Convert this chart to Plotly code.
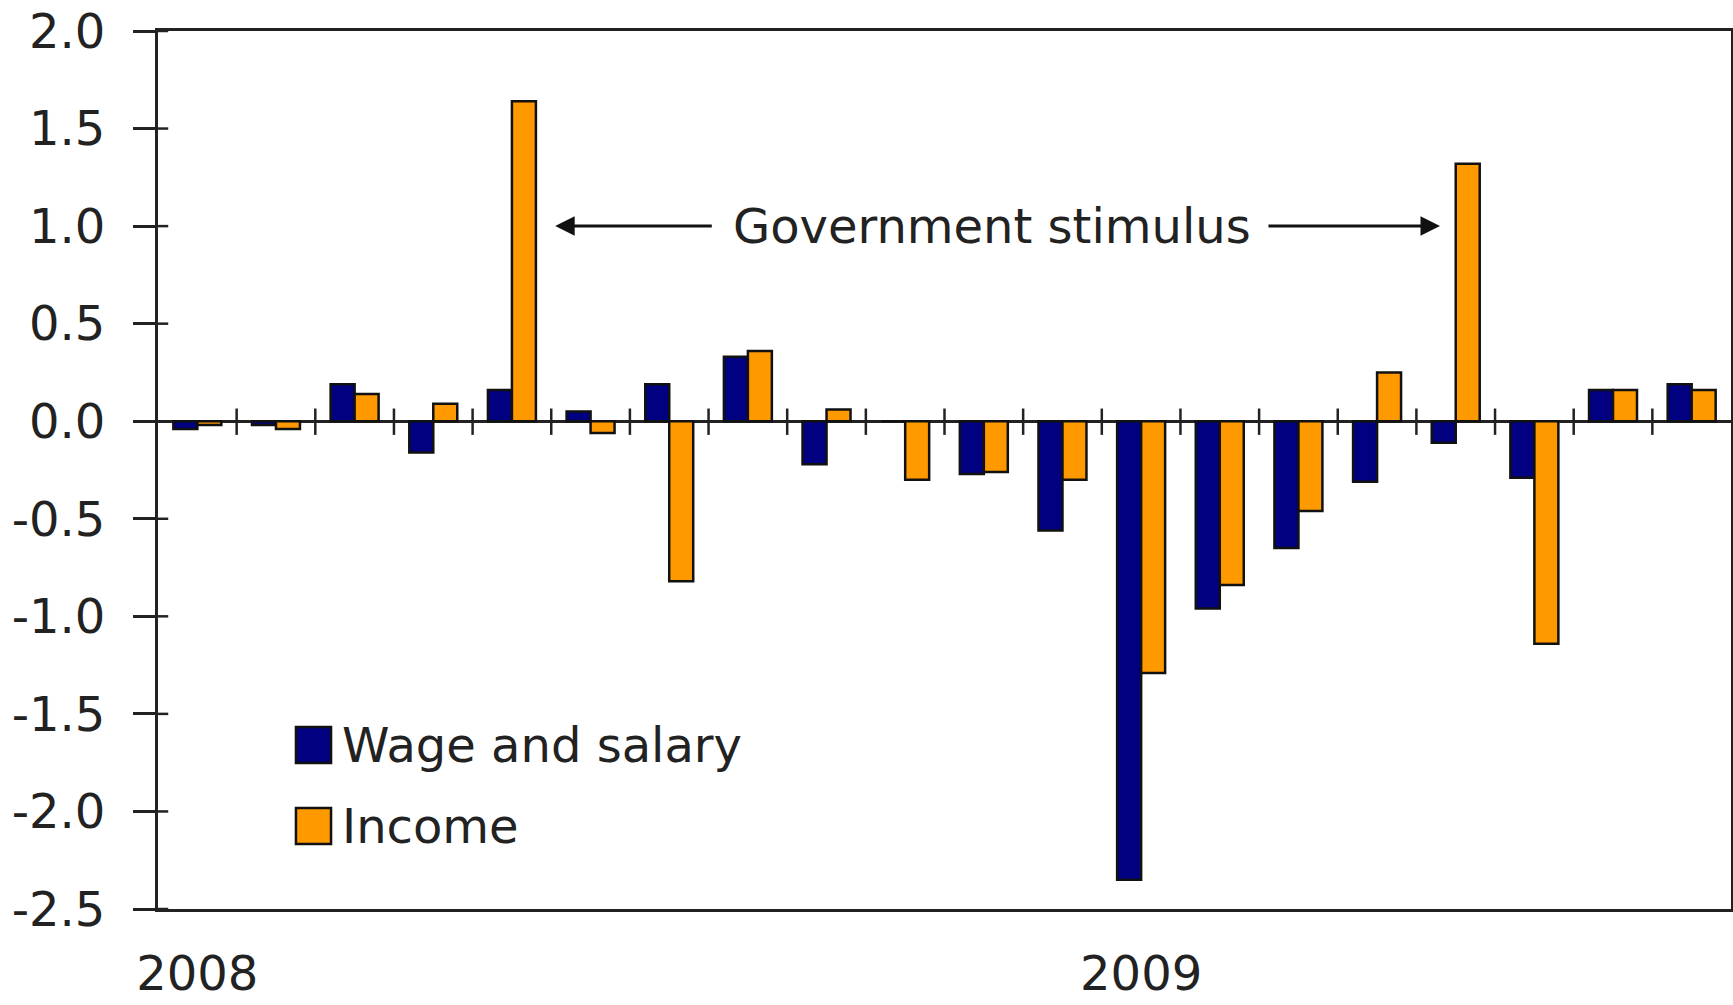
import plotly.graph_objects as go

# Monthly percent change, Jan 2008 - Aug 2009
months = ["Jan 2008", "Feb 2008", "Mar 2008", "Apr 2008", "May 2008", "Jun 2008",
          "Jul 2008", "Aug 2008", "Sep 2008", "Oct 2008", "Nov 2008", "Dec 2008",
          "Jan 2009", "Feb 2009", "Mar 2009", "Apr 2009", "May 2009", "Jun 2009",
          "Jul 2009", "Aug 2009"]
wage_salary = [-0.04, -0.02, 0.19, -0.16, 0.16, 0.05, 0.19, 0.33, -0.22, 0.0,
               -0.27, -0.56, -2.35, -0.96, -0.65, -0.31, -0.11, -0.29, 0.16, 0.19]
income = [-0.02, -0.04, 0.14, 0.09, 1.64, -0.06, -0.82, 0.36, 0.06, -0.30,
          -0.26, -0.30, -1.29, -0.84, -0.46, 0.25, 1.32, -1.14, 0.16, 0.16]
year_ticks = ["2008", "2009"]
y_ticks = [2.0, 1.5, 1.0, 0.5, 0.0, -0.5, -1.0, -1.5, -2.0, -2.5]

NAVY = "#000080"
ORANGE = "#FF9900"
INK = "#222222"
FONT = "DejaVu Sans"
FS = 48

x = list(range(len(months)))

fig = go.Figure()
fig.add_trace(go.Bar(x=x, y=wage_salary, name="Wage and salary", hovertext=months,
                     marker=dict(color=NAVY, line=dict(color="#111111", width=2.5))))
fig.add_trace(go.Bar(x=x, y=income, name="Income", hovertext=months,
                     marker=dict(color=ORANGE, line=dict(color="#111111", width=2.5))))

shapes = []
# tick marks at month boundaries, crossing the zero line
for i in range(len(months) - 1):
    shapes.append(dict(type="line", xref="x", yref="y", x0=i + 0.5, x1=i + 0.5,
                       y0=-0.07, y1=0.065, line=dict(color=INK, width=2.5)))
# inner half of the y-axis ticks
for v in y_ticks:
    shapes.append(dict(type="line", xref="paper", yref="y", x0=0, x1=0.0065,
                       y0=v, y1=v, line=dict(color=INK, width=2.5)))

# legend: swatches and labels
legend_items = [("Wage and salary", NAVY, 0.1868), ("Income", ORANGE, 0.0945)]
annotations = []
for label, color, yc in legend_items:
    shapes.append(dict(type="rect", xref="paper", yref="paper",
                       x0=0.0877, x1=0.1100, y0=yc - 0.0205, y1=yc + 0.0205,
                       fillcolor=color, line=dict(color="#111111", width=2.5)))
    annotations.append(dict(xref="paper", yref="paper", x=0.1160, y=yc,
                            xanchor="left", yanchor="middle", text=label,
                            showarrow=False, font=dict(family=FONT, size=FS, color=INK)))

# "Government stimulus" label with arrows pointing at the two spikes
annotations.append(dict(xref="x", yref="y", x=10.1, y=1.0, text="Government stimulus",
                        showarrow=False, xanchor="center", yanchor="middle",
                        font=dict(family=FONT, size=FS, color=INK)))
annotations.append(dict(xref="x", yref="y", axref="x", ayref="y",
                        x=4.55, y=1.0, ax=6.56, ay=1.0, text="",
                        showarrow=True, arrowhead=2, arrowsize=1.3, arrowwidth=3,
                        arrowcolor="#111111"))
annotations.append(dict(xref="x", yref="y", axref="x", ayref="y",
                        x=15.80, y=1.0, ax=13.60, ay=1.0, text="",
                        showarrow=True, arrowhead=2, arrowsize=1.3, arrowwidth=3,
                        arrowcolor="#111111"))

fig.update_layout(
    width=1733, height=1005,
    margin=dict(l=158, r=2, t=31, b=96),
    paper_bgcolor="white", plot_bgcolor="white",
    barmode="group", bargap=0.39, bargroupgap=0,
    showlegend=False,
    shapes=shapes, annotations=annotations,
    font=dict(family=FONT, size=FS, color=INK),
)
fig.update_xaxes(
    range=[-0.5, len(months) - 0.5],
    tickvals=[0, 12], ticktext=year_ticks,
    ticks="", ticklabelstandoff=20, automargin=False,
    showline=True, mirror=True, linecolor=INK, linewidth=3,
    showgrid=False, zeroline=False,
    tickfont=dict(family=FONT, size=FS, color=INK),
)
fig.update_yaxes(
    range=[-2.5, 2.0],
    tickvals=y_ticks, ticktext=[f"{v:.1f}" for v in y_ticks],
    ticks="outside", ticklen=22, tickwidth=2.5, tickcolor=INK,
    ticklabelstandoff=18, automargin=False,
    showline=True, mirror=True, linecolor=INK, linewidth=3,
    showgrid=False, zeroline=True, zerolinecolor=INK, zerolinewidth=2.5,
    tickfont=dict(family=FONT, size=FS, color=INK),
)

fig.write_html("out.html")
